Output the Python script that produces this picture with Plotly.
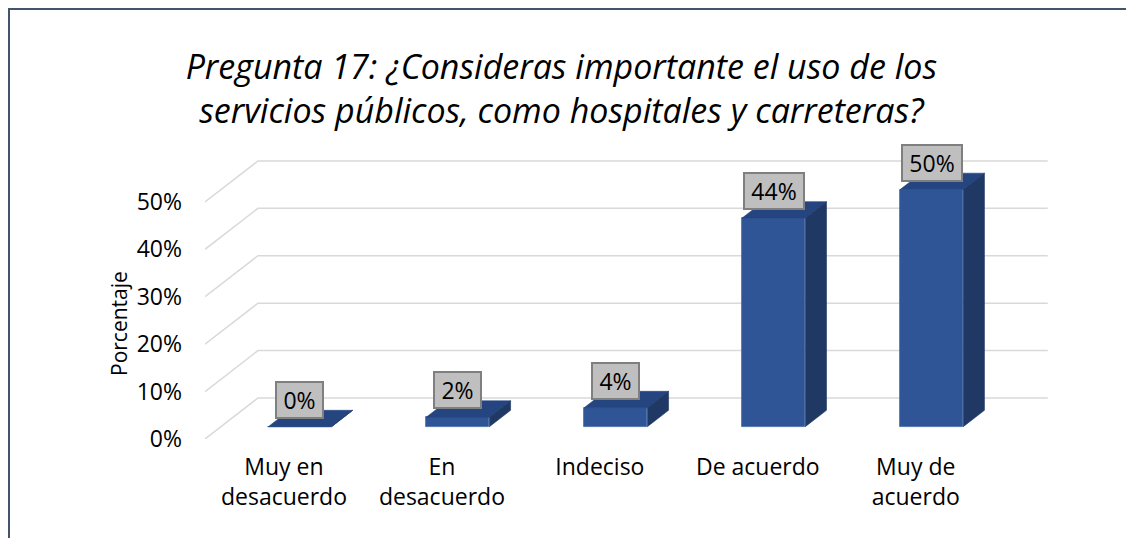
import plotly.graph_objects as go

# ---- data ----
categories = ["Muy en<br>desacuerdo", "En<br>desacuerdo", "Indeciso", "De acuerdo", "Muy de<br>acuerdo"]
values = [0.00, 0.02, 0.04, 0.44, 0.50]
value_labels = ["0%", "2%", "4%", "44%", "50%"]
y_ticks = [0.0, 0.1, 0.2, 0.3, 0.4, 0.5]
y_tick_labels = ["0%", "10%", "20%", "30%", "40%", "50%"]
title_text = "Pregunta 17: ¿Consideras importante el uso de los<br>servicios públicos, como hospitales y carreteras?"
y_title = "Porcentaje"

# ---- geometry / style ----
W, H = 1134, 538
ML, MR, MT, MB = 197, 92, 137, 107
XR = [-0.5, 4.85]
YR = [0.0, 0.62]
px_x = (W - ML - MR) / (XR[1] - XR[0])
px_y = (H - MT - MB) / (YR[1] - YR[0])
DX = 53 / px_x          # full depth offset (category units)
DY = 41 / px_y          # full depth offset (value units)
BAR_W = 0.4
D_FRONT, D_BACK = 0.3, 0.7
FONT = "Open Sans"
C_FRONT, C_TOP, C_SIDE = "#2F5597", "#254581", "#1F3864"
C_GRID = "#D9D9D9"

fig = go.Figure()

# back wall + side wall gridlines (below the bars)
for v in y_ticks:
    path = "M {} {} L {} {} L {} {}".format(XR[0], v, XR[0] + DX, v + DY, 4.5 + DX, v + DY)
    fig.add_shape(type="path", xref="x", yref="y", path=path,
                  line=dict(color=C_GRID, width=1.5), layer="below")

n = len(values)
xs = list(range(n))
fdx, fdy = D_FRONT * DX, D_FRONT * DY
ddx, ddy = (D_BACK - D_FRONT) * DX, (D_BACK - D_FRONT) * DY

# front faces
fig.add_trace(go.Bar(x=[i + fdx for i in xs], y=values, base=[fdy] * n, width=BAR_W,
                     marker=dict(color=C_FRONT, line=dict(color="#4169AA", width=0.8)),
                     hoverinfo="skip", showlegend=False))

# top and side faces
for i, v in zip(xs, values):
    x0 = i + fdx - BAR_W / 2
    x1 = x0 + BAR_W
    yb = fdy
    yt = fdy + v
    fig.add_trace(go.Scatter(
        x=[x0, x1, x1 + ddx, x0 + ddx, x0], y=[yt, yt, yt + ddy, yt + ddy, yt],
        mode="lines", fill="toself", fillcolor=C_TOP, line=dict(color=C_TOP, width=0.6),
        hoverinfo="skip", showlegend=False))
    fig.add_trace(go.Scatter(
        x=[x1, x1, x1 + ddx, x1 + ddx, x1], y=[yb, yt, yt + ddy, yb + ddy, yb],
        mode="lines", fill="toself", fillcolor=C_SIDE, line=dict(color=C_SIDE, width=0.6),
        hoverinfo="skip", showlegend=False))

# data labels
for i, v, t in zip(xs, values, value_labels):
    fig.add_annotation(x=i + fdx, y=fdy + v, xref="x", yref="y", text=t, showarrow=False,
                       yshift=27, font=dict(family=FONT, size=23, color="#000000"),
                       bgcolor="#BFBFBF", bordercolor="#7F7F7F", borderwidth=2, borderpad=0,
                       width=19 + 13 * len(t), height=34, align="center", valign="middle")

pw, ph = W - ML - MR, H - MT - MB

# y-axis title (centred on the tick-label span, as in the original)
fig.add_annotation(text=y_title, textangle=-90, showarrow=False,
                   xref="paper", yref="paper", x=(111 - ML) / pw, y=((H - MB) - 316) / ph,
                   xanchor="center", yanchor="middle",
                   font=dict(family=FONT, size=21, color="#000000"))

# chart frame (figure border)
fig.add_shape(type="rect", xref="paper", yref="paper",
              x0=(1 - ML) / pw, x1=(W + 10 - ML) / pw,
              y0=-(H + 10 - (H - MB)) / ph, y1=((H - MB) - 1) / ph,
              line=dict(color="#44546A", width=2), fillcolor="rgba(0,0,0,0)", layer="below")

fig.update_layout(
    width=W, height=H,
    margin=dict(l=ML, r=MR, t=MT, b=MB, autoexpand=False),
    paper_bgcolor="white", plot_bgcolor="white",
    title=dict(text="<i>" + title_text + "</i>", x=0.488, xanchor="center",
               y=1 - 71 / H, yanchor="top", yref="container",
               font=dict(family=FONT, size=34, color="#000000")),
    xaxis=dict(range=XR, tickmode="array", tickvals=xs, ticktext=categories,
               showgrid=False, zeroline=False, showline=False, ticks="",
               ticklabelstandoff=12,
               tickfont=dict(family=FONT, size=23, color="#000000"), fixedrange=True),
    yaxis=dict(range=YR, tickmode="array", tickvals=y_ticks, ticktext=y_tick_labels,
               showgrid=False, zeroline=False, showline=False, ticks="",
               ticklabelstandoff=22,
               tickfont=dict(family=FONT, size=23, color="#000000"),
               fixedrange=True),
    bargap=0, showlegend=False,
)

fig.write_html("out.html")
